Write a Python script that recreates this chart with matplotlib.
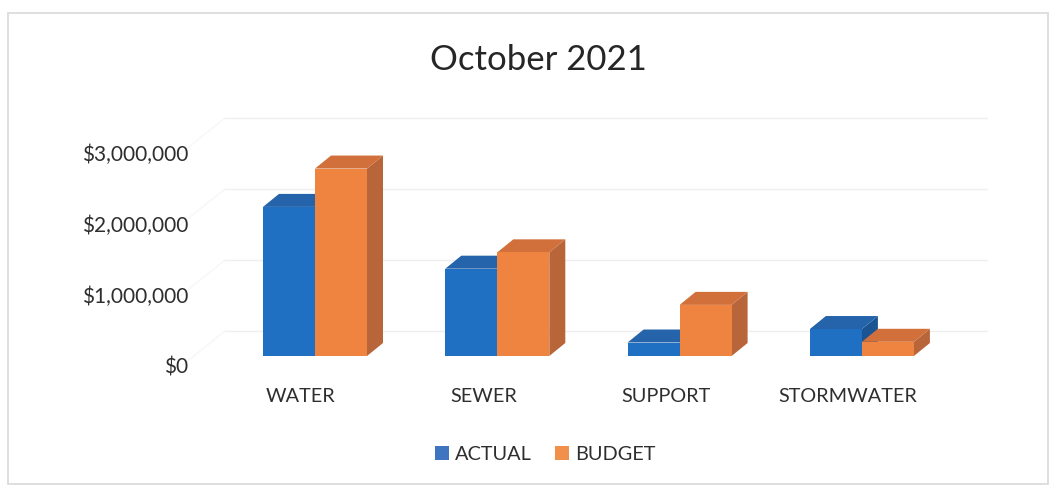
import matplotlib.pyplot as plt
from matplotlib.patches import Patch, Polygon, Rectangle

categories = ["WATER", "SEWER", "SUPPORT", "STORMWATER"]
actual = [2_100_000, 1_230_000, 190_000, 380_000]
budget = [2_640_000, 1_460_000, 720_000, 200_000]
series = [("ACTUAL", actual), ("BUDGET", budget)]
yticks = [0, 1_000_000, 2_000_000, 3_000_000]
ytick_labels = ["$0", "$1,000,000", "$2,000,000", "$3,000,000"]

plt.rcParams["font.family"] = ["Lato", "DejaVu Sans"]

# face colours: front, top, side
COLORS = {
    "ACTUAL": ("#1f6fc2", "#2563aa", "#1b5493"),
    "BUDGET": ("#ef8441", "#d1703a", "#b9653a"),
}
LEGEND_COLORS = {"ACTUAL": "#3f74c0", "BUDGET": "#f0904a"}
TEXT = "#2e2e2e"

W, H, DPI = 1055, 489, 100
PX_X = 182.3          # pixels per category step
PX_Y = 71 / 1e6       # pixels per dollar
X0, Y0 = 315, 357     # pixel of first group centre / bar base

fig = plt.figure(figsize=(W / DPI, H / DPI), dpi=DPI)
ax = fig.add_axes([0, 0, 1, 1])
ax.set_xlim(-X0 / PX_X, (W - X0) / PX_X)
ax.set_ylim((Y0 - H) / PX_Y, Y0 / PX_Y)
ax.axis("off")

# oblique depth offsets in data units
bar_w = 52 / PX_X
dep_x, dep_y = 16 / PX_X, 13 / PX_Y
wall_x, wall_y = 40 / PX_X, 25 / PX_Y
front_y = -11 / PX_Y

# back wall + side wall grid (very faint)
wall_left = -130 / PX_X
wall_right = 632 / PX_X
side_front = -135 / PX_X
for v in yticks:
    ax.plot([wall_left + wall_x, wall_right + wall_x], [v + wall_y] * 2,
            color="#efefef", lw=1.0, zorder=0)
    ax.plot([side_front, wall_left + wall_x], [v + front_y, v + wall_y],
            color="#f7f7f7", lw=1.0, zorder=0)

# pseudo-3D columns: side, top, front, drawn left to right
for i, cat in enumerate(categories):
    for j, (name, vals) in enumerate(series):
        h = vals[i]
        x0 = i - bar_w + j * bar_w
        x1 = x0 + bar_w
        front, top, side = COLORS[name]
        ax.add_patch(Polygon([(x1, 0), (x1 + dep_x, dep_y), (x1 + dep_x, h + dep_y), (x1, h)],
                             closed=True, facecolor=side, edgecolor="none", zorder=2))
        ax.add_patch(Polygon([(x0, h), (x1, h), (x1 + dep_x, h + dep_y), (x0 + dep_x, h + dep_y)],
                             closed=True, facecolor=top, edgecolor="none", zorder=2))
        ax.bar(x0, h, width=bar_w, align="edge", color=front, edgecolor="none", zorder=2)

# value axis labels sit on the front edge of the floor
for v, lab in zip(yticks, ytick_labels):
    ax.text(-127 / PX_X, v + front_y, lab, ha="right", va="center",
            fontsize=15, color=TEXT)

for i, cat in enumerate(categories):
    ax.text(i - 14 / PX_X, -40 / PX_Y, cat, ha="center", va="center",
            fontsize=14.3, color=TEXT)

fig.text(538 / W, 1 - 60 / H, "October 2021", ha="center", va="center",
         fontsize=25, color="#262626")

handles = [Patch(facecolor=LEGEND_COLORS[n], edgecolor="none", label=n) for n, _ in series]
fig.legend(handles=handles, loc="center", bbox_to_anchor=(545 / W, 1 - 455 / H),
           ncol=2, frameon=False, fontsize=14.3, handlelength=0.7, handleheight=0.7,
           handletextpad=0.3, columnspacing=1.2, labelcolor=TEXT)

fig.add_artist(Rectangle((8 / W, 4 / H), 1040 / W, 471 / H, transform=fig.transFigure,
                         facecolor="none", edgecolor="#d9d9d9", lw=1.2))

fig.savefig("out.png", dpi=DPI, facecolor="white")
